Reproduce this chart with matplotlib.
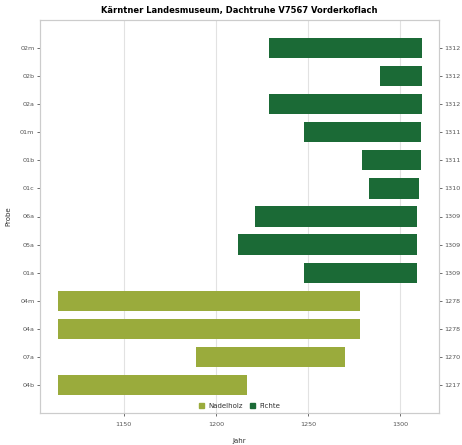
import matplotlib
matplotlib.use('Agg')
import matplotlib.pyplot as plt
from matplotlib.patches import Patch

proben = ['02m', '02b', '02a', '01m', '01b', '01c', '06a', '05a', '01a',
          '04m', '04a', '07a', '04b']
start = [1229, 1289, 1229, 1248, 1279, 1283, 1221, 1212, 1248,
         1114, 1114, 1189, 1114]
ende = [1312, 1312, 1312, 1311, 1311, 1310, 1309, 1309, 1309,
        1278, 1278, 1270, 1217]
holzart = ['Fichte'] * 9 + ['Nadelholz'] * 4

farben = {'Nadelholz': '#9aab3c', 'Fichte': '#1b6a36'}
grau = '#555555'

fig = plt.figure(figsize=(4.62, 4.45), dpi=100)
ax = fig.add_axes([40 / 462, 1 - 413 / 445, 399 / 462, 393 / 445])

n = len(proben)
ypos = [n - 1 - i for i in range(n)]
breite = [e - s for s, e in zip(start, ende)]
ax.barh(ypos, breite, left=start, height=0.72,
        color=[farben[h] for h in holzart], zorder=3)

ax.set_xlim(1104.5, 1321)
ax.set_ylim(-1, n)
ax.set_xticks([1150, 1200, 1250, 1300])
ax.grid(axis='x', color='#e2e2e2', linewidth=0.8, zorder=0)

ax.set_yticks(ypos)
ax.set_yticklabels(proben)
ax2 = ax.twinx()
ax2.set_ylim(ax.get_ylim())
ax2.set_yticks(ypos)
ax2.set_yticklabels([str(e) for e in ende])

for a in (ax, ax2):
    a.tick_params(labelsize=4.6, colors=grau, length=2.5, width=0.6, pad=1.5)
    for sp in a.spines.values():
        sp.set_color('#cccccc')
        sp.set_linewidth(0.8)
ax.tick_params(axis='x', pad=4)

ax.set_title('Kärntner Landesmuseum, Dachtruhe V7567 Vorderkoflach',
             fontsize=6, fontweight='bold', pad=5)
ax.set_xlabel('Jahr', fontsize=5, color='#333333', labelpad=8)
ax.set_ylabel('Probe', fontsize=5, color='#333333', labelpad=6)

handles = [Patch(color=farben['Nadelholz'], label='Nadelholz'),
           Patch(color=farben['Fichte'], label='Fichte')]
leg = ax.legend(handles=handles, loc='lower center', ncol=2, frameon=False,
                fontsize=5, handlelength=0.8, handleheight=0.8,
                columnspacing=1.0, handletextpad=0.6,
                bbox_to_anchor=(0.5, -0.005))
for t in leg.get_texts():
    t.set_color('#333333')

fig.savefig('out.png', dpi=100)
